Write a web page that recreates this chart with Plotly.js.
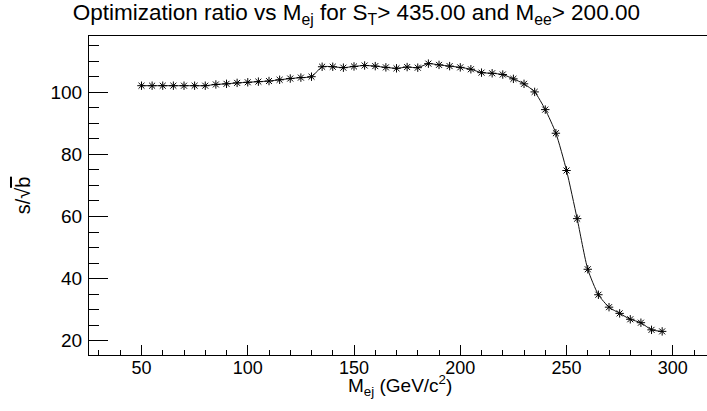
<!DOCTYPE html>
<html>
<head>
<meta charset="utf-8">
<script src="https://cdn.plot.ly/plotly-3.0.1.min.js"></script>
<style>
html,body{margin:0;padding:0;background:#fff;overflow:hidden;}
#chart{width:707px;height:411px;}
</style>
</head>
<body>
<div id="chart"></div>
<script>
const mej = [50,55,60,65,70,75,80,85,90,95,100,105,110,115,120,125,130,135,140,145,150,155,160,165,170,175,180,185,190,195,200,205,210,215,220,225,230,235,240,245,250,255,260,265,270,275,280,285,290,295];
const ratio = [102.1,102.1,102.1,102.1,102.1,102.1,102.1,102.5,102.7,103.0,103.2,103.4,103.6,104.0,104.4,104.7,105.0,108.2,108.2,107.9,108.3,108.6,108.4,108.0,107.7,108.1,107.9,109.2,108.8,108.4,108.0,107.4,106.3,106.1,105.7,104.3,102.7,100.1,94.4,86.8,74.8,59.3,43.0,34.8,30.8,28.8,26.9,25.8,23.5,23.0];

const titleText = 'Optimization ratio vs M<sub>ej</sub> for S<sub>T</sub>> 435.00 and M<sub>ee</sub>> 200.00';
const xTitle = 'M<sub>ej</sub> (GeV/c<sup>2</sup>)';
const yTitle = 's/√<span style="text-decoration:overline">b</span>';

const font = "Liberation Sans, Arial, sans-serif";

const trace = {
  x: mej, y: ratio,
  type: 'scatter', mode: 'lines+markers',
  line: {shape: 'spline', smoothing: 0.6, color: '#111', width: 1},
  marker: {symbol: 'asterisk-open', size: 7, color: '#000', line: {color: '#000', width: 1}},
  hoverinfo: 'x+y'
};

const layout = {
  width: 707, height: 411,
  margin: {l: 89, r: 0, t: 36, b: 56},
  paper_bgcolor: '#fff', plot_bgcolor: '#fff',
  showlegend: false,
  font: {family: font, color: '#000', size: 18},
  title: {
    text: titleText,
    x: 0.504, xref: 'container', xanchor: 'center',
    y: 0.99, yref: 'container', yanchor: 'top',
    font: {family: font, size: 22.5, color: '#000'}
  },
  xaxis: {
    range: [25.3, 316.1],
    showgrid: false, zeroline: false,
    showline: true, linecolor: '#000', linewidth: 1, mirror: true,
    ticks: 'inside', ticklen: 10, tickcolor: '#000', tickwidth: 1,
    tick0: 0, dtick: 50,
    minor: {ticks: 'inside', ticklen: 5, dtick: 10, tick0: 0, tickcolor: '#000', showgrid: false},
    tickfont: {family: font, size: 18, color: '#000'},
    ticklabelstandoff: -4
  },
  yaxis: {
    range: [15.4, 118.1],
    showgrid: false, zeroline: false,
    showline: true, linecolor: '#000', linewidth: 1, mirror: false,
    ticks: 'inside', ticklen: 19, tickcolor: '#000', tickwidth: 1,
    tick0: 0, dtick: 20,
    minor: {ticks: 'inside', ticklen: 10, dtick: 5, tick0: 0, tickcolor: '#000', showgrid: false},
    tickfont: {family: font, size: 19, color: '#000'},
    ticklabelstandoff: 2,
    title: {text: yTitle, font: {family: font, size: 20, color: '#000'}, standoff: 14}
  },
  annotations: [{
    text: xTitle, xref: 'paper', yref: 'paper',
    x: 0.503, y: -0.097, xanchor: 'center', yanchor: 'middle',
    showarrow: false, font: {family: font, size: 19, color: '#000'}
  }]
};

Plotly.newPlot('chart', [trace], layout, {displayModeBar: false, staticPlot: true});
</script>
</body>
</html>
